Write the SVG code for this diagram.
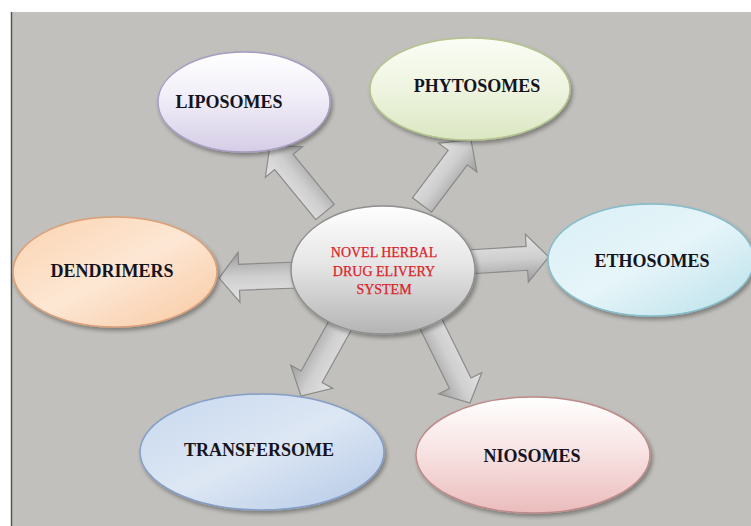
<svg xmlns="http://www.w3.org/2000/svg" width="751" height="526" viewBox="0 0 751 526">
<defs>
<filter id="sh" x="-20%" y="-20%" width="140%" height="150%">
<feGaussianBlur in="SourceAlpha" stdDeviation="2"/>
<feOffset dx="2" dy="3" result="b"/>
<feComponentTransfer><feFuncA type="linear" slope="0.35"/></feComponentTransfer>
<feMerge><feMergeNode/><feMergeNode in="SourceGraphic"/></feMerge>
</filter>
<linearGradient id="gLip" x1="0" y1="0" x2="0" y2="1"><stop offset="0" stop-color="#ffffff"/><stop offset="0.45" stop-color="#f1eef8"/><stop offset="1" stop-color="#d5cde6"/></linearGradient>
<linearGradient id="gPhy" x1="0" y1="0" x2="0" y2="1"><stop offset="0" stop-color="#fbfdf5"/><stop offset="0.5" stop-color="#eef4e0"/><stop offset="1" stop-color="#dbe7c2"/></linearGradient>
<linearGradient id="gEth" x1="0" y1="0" x2="1" y2="1"><stop offset="0" stop-color="#d9eff5"/><stop offset="0.5" stop-color="#e6f5f9"/><stop offset="1" stop-color="#b9e0ea"/></linearGradient>
<linearGradient id="gDen" x1="0" y1="0" x2="1" y2="1"><stop offset="0" stop-color="#fbd3b0"/><stop offset="0.5" stop-color="#fde7d4"/><stop offset="1" stop-color="#f8c9a2"/></linearGradient>
<linearGradient id="gCen" x1="0" y1="0" x2="0" y2="1"><stop offset="0" stop-color="#ffffff"/><stop offset="0.45" stop-color="#e6e6e6"/><stop offset="1" stop-color="#b4b4b4"/></linearGradient>
<linearGradient id="gTra" x1="0" y1="0" x2="1" y2="1"><stop offset="0" stop-color="#c7d8ee"/><stop offset="0.5" stop-color="#dde7f4"/><stop offset="1" stop-color="#b3c8e6"/></linearGradient>
<linearGradient id="gNio" x1="0" y1="0" x2="0" y2="1"><stop offset="0" stop-color="#ffffff"/><stop offset="0.45" stop-color="#f8e4e4"/><stop offset="1" stop-color="#ebbcbc"/></linearGradient>
<linearGradient id="gArr" x1="0" y1="0" x2="0" y2="1"><stop offset="0" stop-color="#e4e4e4"/><stop offset="0.5" stop-color="#cfcfcf"/><stop offset="1" stop-color="#9c9c9c"/></linearGradient>
</defs>
<style>
.lbl{font-family:"Liberation Serif","Times New Roman",serif;font-weight:bold;font-size:18px;fill:#141421;text-anchor:middle}
.ctr{font-family:"Liberation Serif","Times New Roman",serif;font-size:14px;fill:#dc2329;text-anchor:middle;stroke:#dc2329;stroke-width:0.25}
.arr{fill:url(#gArr);stroke:#8a8a8a;stroke-width:1.2;stroke-linejoin:miter}
.e{stroke-width:1.5}
</style>
<rect x="0" y="0" width="751" height="526" fill="#ffffff"/>
<rect x="11" y="12" width="740" height="514" fill="#c1c0bc"/>
<line x1="11.5" y1="12" x2="11.5" y2="526" stroke="#555555" stroke-width="1.5"/>
<g id="connectors">
<polygon class="arr" transform="translate(325,212) rotate(-129.4)" points="0,-12 64.7,-12 64.7,-24 86.7,0 64.7,24 64.7,12 0,12"/>
<polygon class="arr" transform="translate(422,205) rotate(-53)" points="0,-12 59.4,-12 59.4,-24 81.4,0 59.4,24 59.4,12 0,12"/>
<polygon class="arr" transform="translate(468,262) rotate(-3.6)" points="0,-12 59,-12 59,-24 81,0 59,24 59,12 0,12"/>
<polygon class="arr" transform="translate(298,275) rotate(177.8)" points="0,-13 59,-13 59,-25 79,0 59,25 59,13 0,13"/>
<polygon class="arr" transform="translate(342,322) rotate(119)" points="0,-12 62.6,-12 62.6,-24 84.6,0 62.6,24 62.6,12 0,12"/>
<polygon class="arr" transform="translate(430,322) rotate(63.7)" points="0,-12 68.3,-12 68.3,-24 90.3,0 68.3,24 68.3,12 0,12"/>
</g>
<g id="center">
<ellipse class="e" cx="383" cy="270" rx="92" ry="64" fill="url(#gCen)" stroke="#8f8f8f" filter="url(#sh)"/>
<text class="ctr" x="384" y="257">NOVEL HERBAL</text>
<text class="ctr" x="384" y="276">DRUG ELIVERY</text>
<text class="ctr" x="384" y="294">SYSTEM</text>
</g>
<g id="liposomes">
<ellipse class="e" cx="244" cy="102" rx="86" ry="50" fill="url(#gLip)" stroke="#a79cc2" filter="url(#sh)"/>
<text class="lbl" x="229" y="108">LIPOSOMES</text>
</g>
<g id="phytosomes">
<ellipse class="e" cx="470" cy="89" rx="100" ry="51" fill="url(#gPhy)" stroke="#b3c48e" filter="url(#sh)"/>
<text class="lbl" x="477" y="92">PHYTOSOMES</text>
</g>
<g id="ethosomes">
<ellipse class="e" cx="651" cy="260" rx="103" ry="56" fill="url(#gEth)" stroke="#86bccb" filter="url(#sh)"/>
<text class="lbl" x="652" y="267">ETHOSOMES</text>
</g>
<g id="dendrimers">
<ellipse class="e" cx="115" cy="272" rx="102" ry="55" fill="url(#gDen)" stroke="#dca078" filter="url(#sh)"/>
<text class="lbl" x="112" y="277">DENDRIMERS</text>
</g>
<g id="transfersome">
<ellipse class="e" cx="262" cy="452" rx="122" ry="58" fill="url(#gTra)" stroke="#869ec5" filter="url(#sh)"/>
<text class="lbl" x="259" y="456">TRANSFERSOME</text>
</g>
<g id="niosomes">
<ellipse class="e" cx="533" cy="455" rx="117" ry="58" fill="url(#gNio)" stroke="#bd8a8a" filter="url(#sh)"/>
<text class="lbl" x="532" y="462">NIOSOMES</text>
</g>
</svg>
